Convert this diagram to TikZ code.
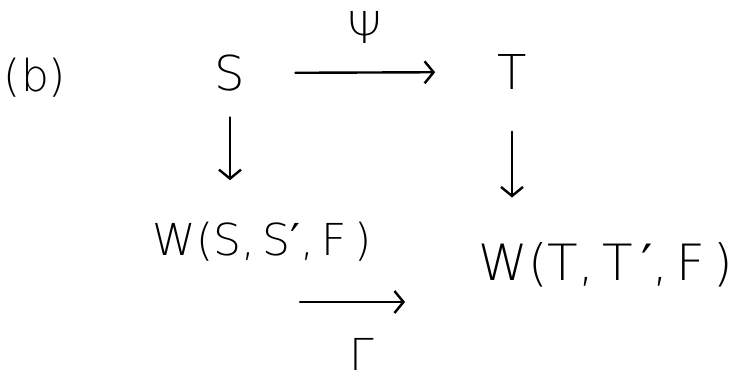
\documentclass[tikz,border=0pt]{standalone}
\usepackage{fontspec}
\setmainfont{DejaVu Sans ExtraLight}
\newfontfamily\primefont{DejaVu Sans}
\newcommand{\myprime}{{\primefont ′}}
\usetikzlibrary{arrows.meta}
\begin{document}
\begin{tikzpicture}[x=1pt,y=1pt,
  lab/.style={inner sep=0pt, font=\fontsize{44}{48}\selectfont},
  big/.style={inner sep=0pt, font=\fontsize{48}{52}\selectfont},
  huge/.style={inner sep=0pt, font=\fontsize{50}{54}\selectfont},
  arr/.style={line width=2.4pt, line cap=round, -{Straight Barb[length=9pt,width=22pt,line width=2.4pt]}}]
\useasboundingbox[fill=white] (0,0) rectangle (747,382);
\node[lab] (b) at (35,304) {(b)};
\node[big] (S) at (230,309) {S};
\node[big] (T) at (512,310) {T};
\node[lab] (psi) at (365,355) {Ψ};
\node[lab] (WS) at (262,140) {W(S,\,S\myprime,\,F\,)};
\node[huge] (WT) at (606,117) {W(T,\,T\,\myprime,\,F\,)};
\node[lab] (gam) at (362,28) {Γ};
\coordinate (g1) at (300,80);
\coordinate (g2) at (405,80);
\draw[arr, shorten <=50pt, shorten >=62pt] (S.east) -- (T.west);
\draw[arr, shorten <=26pt, shorten >=42pt] (S.south) -- (S.south |- WS.north);
\draw[arr, shorten <=42pt, shorten >=45pt] (T.south) -- (T.south |- WT.north);
\draw[arr] (g1) -- (g2);
\end{tikzpicture}
\end{document}
